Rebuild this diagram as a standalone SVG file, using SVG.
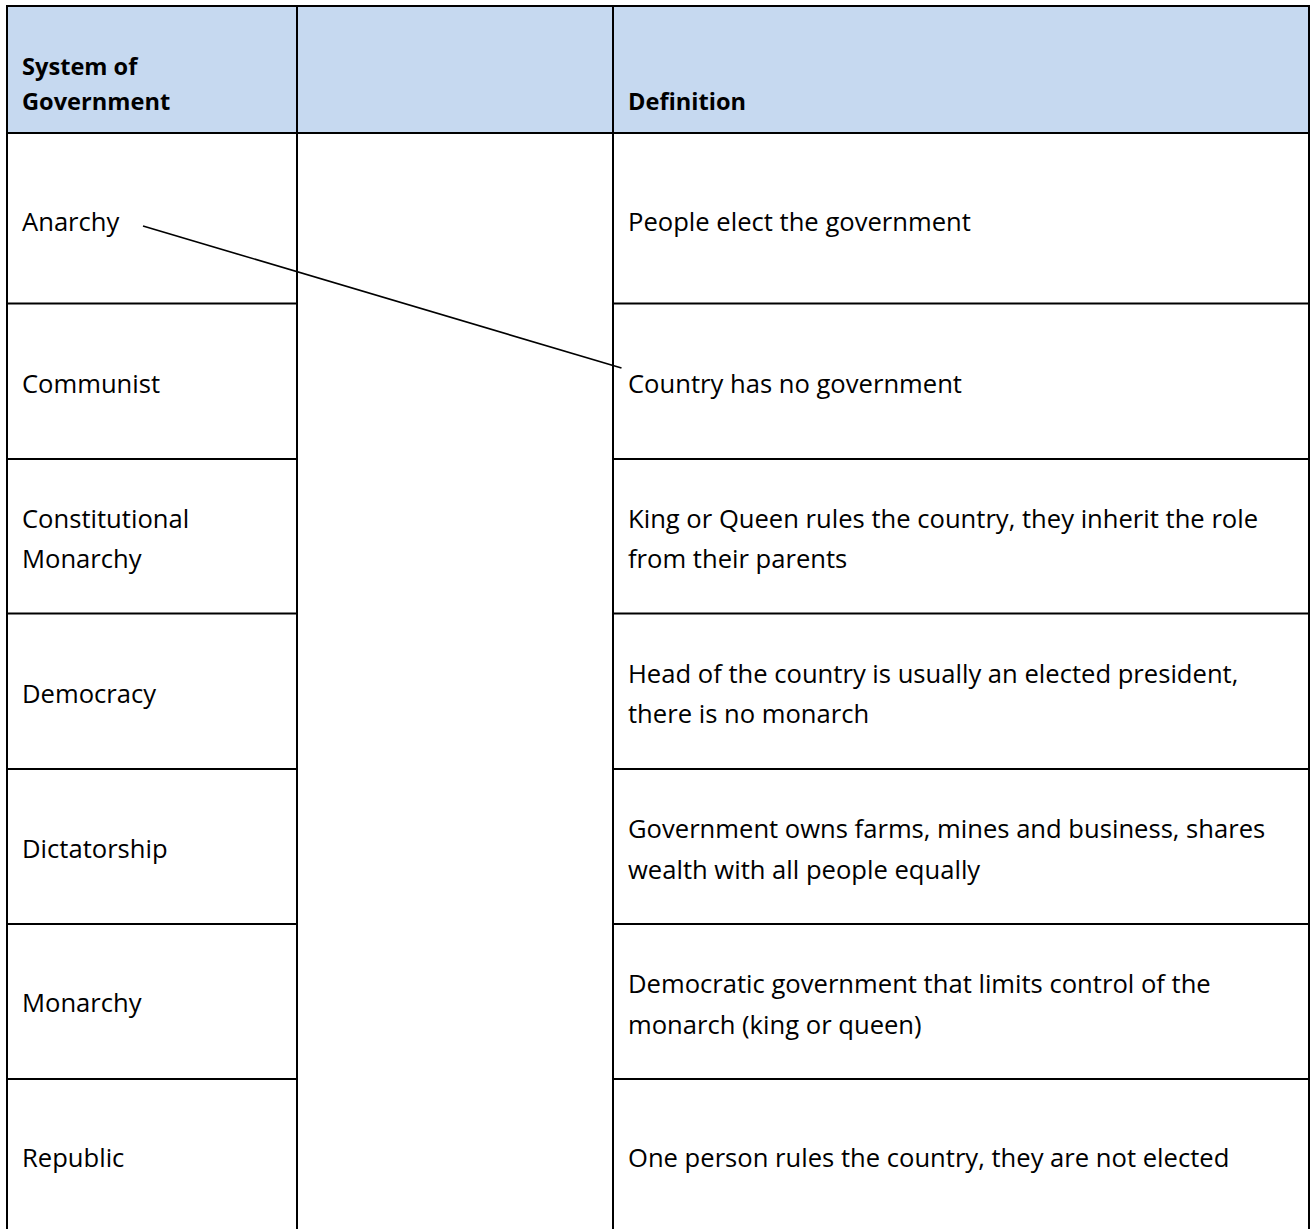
<svg xmlns="http://www.w3.org/2000/svg" width="1310" height="1229" viewBox="0 0 1310 1229">
<style>
.t{font-family:"Open Sans","Liberation Sans",sans-serif;font-size:25.6px;fill:#000}
.b{font-weight:bold;font-size:23.6px}
.g{stroke:#000;stroke-width:2;fill:none}
</style>
<rect width="1310" height="1229" fill="#fff"/>
<g id="header">
<rect x="7" y="6" width="1302" height="127" fill="#C6D9F0"/>
<text class="t b" x="22" y="75">System of</text>
<text class="t b" x="22" y="110">Government</text>
<text class="t b" x="628" y="110">Definition</text>
</g>
<g id="grid" class="g">
<line x1="6" y1="6" x2="1310" y2="6"/>
<line x1="7" y1="5" x2="7" y2="1229"/>
<line x1="297" y1="6" x2="297" y2="1229"/>
<line x1="613" y1="6" x2="613" y2="1229"/>
<line x1="1309" y1="5" x2="1309" y2="1229"/>
<line x1="7" y1="133" x2="1309" y2="133"/>
<line x1="7" y1="303.5" x2="297" y2="303.5"/>
<line x1="613" y1="303.5" x2="1309" y2="303.5"/>
<line x1="7" y1="459" x2="297" y2="459"/>
<line x1="613" y1="459" x2="1309" y2="459"/>
<line x1="7" y1="613.5" x2="297" y2="613.5"/>
<line x1="613" y1="613.5" x2="1309" y2="613.5"/>
<line x1="7" y1="769" x2="297" y2="769"/>
<line x1="613" y1="769" x2="1309" y2="769"/>
<line x1="7" y1="924" x2="297" y2="924"/>
<line x1="613" y1="924" x2="1309" y2="924"/>
<line x1="7" y1="1079" x2="297" y2="1079"/>
<line x1="613" y1="1079" x2="1309" y2="1079"/>
</g>
<g id="systems">
<g id="anarchy"><text class="t" x="22" y="231">Anarchy</text></g>
<g id="communist"><text class="t" x="22" y="393">Communist</text></g>
<g id="constitutional-monarchy"><text class="t" x="22" y="527.5">Constitutional</text><text class="t" x="22" y="568">Monarchy</text></g>
<g id="democracy"><text class="t" x="22" y="703">Democracy</text></g>
<g id="dictatorship"><text class="t" x="22" y="857.5">Dictatorship</text></g>
<g id="monarchy"><text class="t" x="22" y="1012">Monarchy</text></g>
<g id="republic"><text class="t" x="22" y="1167">Republic</text></g>
</g>
<g id="definitions">
<g id="def-1"><text class="t" x="628" y="231">People elect the government</text></g>
<g id="def-2"><text class="t" x="628" y="393">Country has no government</text></g>
<g id="def-3"><text class="t" x="628" y="527.5">King or Queen rules the country, they inherit the role</text><text class="t" x="628" y="568">from their parents</text></g>
<g id="def-4"><text class="t" x="628" y="682.5">Head of the country is usually an elected president,</text><text class="t" x="628" y="723">there is no monarch</text></g>
<g id="def-5"><text class="t" x="628" y="838">Government owns farms, mines and business, shares</text><text class="t" x="628" y="879">wealth with all people equally</text></g>
<g id="def-6"><text class="t" x="628" y="993">Democratic government that limits control of the</text><text class="t" x="628" y="1033.5">monarch (king or queen)</text></g>
<g id="def-7"><text class="t" x="628" y="1167">One person rules the country, they are not elected</text></g>
</g>
<g id="connectors">
<line x1="143" y1="226" x2="621.5" y2="368" stroke="#000" stroke-width="1.6"/>
</g>
</svg>
